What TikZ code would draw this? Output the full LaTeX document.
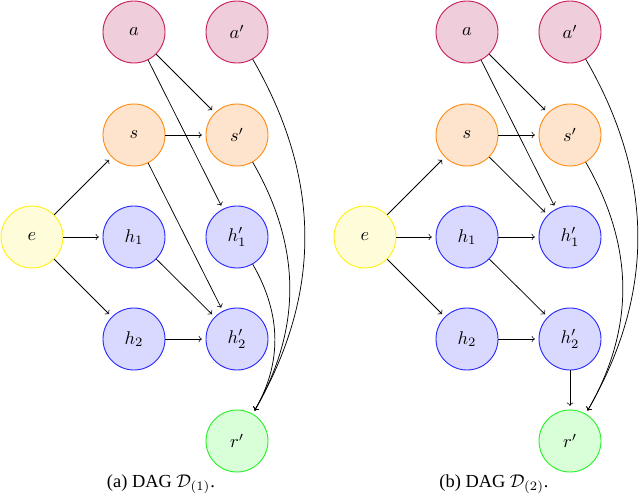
\documentclass[tikz,border=0pt]{standalone}
\usepackage{fontspec}
\setmainfont{Liberation Serif}
\usetikzlibrary{arrows}
\definecolor{aborder}{RGB}{200,30,90}
\definecolor{afill}{RGB}{240,205,218}
\definecolor{sborder}{RGB}{255,140,20}
\definecolor{sfill}{RGB}{255,228,205}
\definecolor{hborder}{RGB}{40,40,255}
\definecolor{hfill}{RGB}{217,217,255}
\definecolor{rborder}{RGB}{40,240,40}
\definecolor{rfill}{RGB}{217,255,217}
\definecolor{eborder}{RGB}{255,240,20}
\definecolor{efill}{RGB}{255,252,217}
\tikzset{
  vnode/.style={circle, minimum size=33.7pt, inner sep=0pt, line width=0.5pt},
  anode/.style={vnode, draw=aborder, fill=afill},
  snode/.style={vnode, draw=sborder, fill=sfill},
  hnode/.style={vnode, draw=hborder, fill=hfill},
  rnode/.style={vnode, draw=rborder, fill=rfill},
  enode/.style={vnode, draw=eborder, fill=efill},
  arr/.style={->, line width=0.4pt, shorten >=2pt},
  captext/.style={font=\normalsize}
}
\begin{document}
\begin{tikzpicture}[x=0.5435pt, y=-0.5435pt]
\useasboundingbox (0,0) rectangle (640,503);
% left diagram
\node[anode] (La) at (134,32) {$a$};
\node[anode] (Lap) at (237,32) {$a'$};
\node[snode] (Ls) at (134,135) {$s$};
\node[snode] (Lsp) at (237,135) {$s'$};
\node[enode] (Le) at (32,237) {$e$};
\node[hnode] (Lh1) at (134,237) {$h_1$};
\node[hnode] (Lh1p) at (237,237) {$h'_1$};
\node[hnode] (Lh2) at (134,339) {$h_2$};
\node[hnode] (Lh2p) at (237,339) {$h'_2$};
\node[rnode] (Lrp) at (237,441) {$r'$};
\draw[arr] (Le) -- (Ls);
\draw[arr] (Le) -- (Lh1);
\draw[arr] (Le) -- (Lh2);
\draw[arr] (La) -- (Lsp);
\draw[arr] (La) -- (Lh1p);
\draw[arr] (Ls) -- (Lsp);
\draw[arr] (Ls) -- (Lh2p);
\draw[arr] (Lh1) -- (Lh2p);
\draw[arr] (Lh2) -- (Lh2p);
\draw[arr] (Lap) to[bend left] (Lrp);
\draw[arr] (Lsp) to[bend left] (Lrp);
\draw[arr] (Lh1p) to[bend left] (Lrp);
\node[captext, anchor=base] (Lcap) at (161,487) {(a) DAG $\mathcal{D}_{(1)}$.};
% right diagram
\node[anode] (Ra) at (467,32) {$a$};
\node[anode] (Rap) at (570,32) {$a'$};
\node[snode] (Rs) at (467,135) {$s$};
\node[snode] (Rsp) at (570,135) {$s'$};
\node[enode] (Re) at (365,237) {$e$};
\node[hnode] (Rh1) at (467,237) {$h_1$};
\node[hnode] (Rh1p) at (570,237) {$h'_1$};
\node[hnode] (Rh2) at (467,339) {$h_2$};
\node[hnode] (Rh2p) at (570,339) {$h'_2$};
\node[rnode] (Rrp) at (570,441) {$r'$};
\draw[arr] (Re) -- (Rs);
\draw[arr] (Re) -- (Rh1);
\draw[arr] (Re) -- (Rh2);
\draw[arr] (Ra) -- (Rsp);
\draw[arr] (Ra) -- (Rh1p);
\draw[arr] (Rs) -- (Rsp);
\draw[arr] (Rs) -- (Rh1p);
\draw[arr] (Rh1) -- (Rh1p);
\draw[arr] (Rh1) -- (Rh2p);
\draw[arr] (Rh2) -- (Rh2p);
\draw[arr] (Rh2p) -- (Rrp);
\draw[arr] (Rap) to[bend left] (Rrp);
\draw[arr] (Rsp) to[bend left] (Rrp);
\node[captext, anchor=base] (Rcap) at (494,487) {(b) DAG $\mathcal{D}_{(2)}$.};
\end{tikzpicture}
\end{document}
